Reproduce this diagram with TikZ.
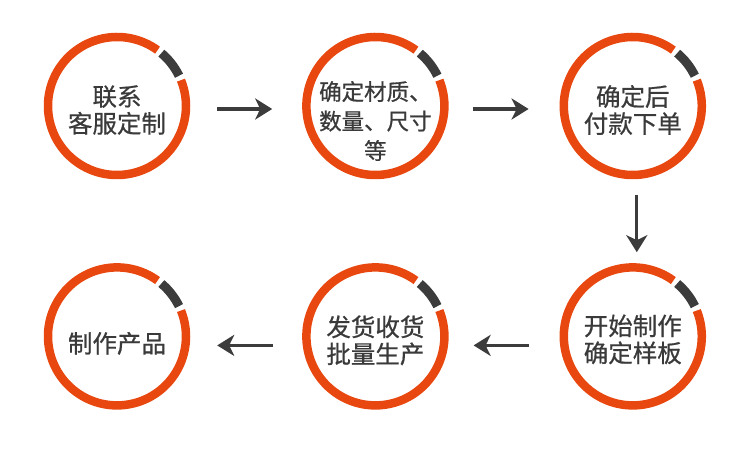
\documentclass[tikz,border=0pt]{standalone}
\usepackage{fontspec}
\setmainfont{Noto Sans CJK SC}
\newfontfamily\stepfont{Noto Sans CJK SC}[RawFeature={embolden=0.7}]
\usetikzlibrary{arrows.meta,positioning}
\definecolor{RingOrange}{HTML}{E8480F}
\definecolor{MarkGray}{HTML}{3C3C3C}
\definecolor{TextGray}{HTML}{3A3A3A}
\tikzset{
  stepring/.style={circle, minimum size=138pt, inner sep=0pt},
  ringarc/.style={draw=RingOrange, line width=8.5pt},
  ringmark/.style={draw=MarkGray, line width=9pt},
  steptext/.style={align=center, text=TextGray, inner sep=0pt,
                   font=\stepfont\fontsize{24.5}{27}\selectfont},
  flowarrow/.style={draw=MarkGray, line width=3.2pt,
                    -{Stealth[length=17pt,width=21pt,inset=5pt]}},
}

\begin{document}
\begin{tikzpicture}[x=1pt,y=1pt]
    \useasboundingbox (0,0) rectangle (750,458);
    \node[stepring] (s1) at (117,352) {};
    \node[stepring, right=120pt of s1] (s2) {};
    \node[stepring, right=119pt of s2] (s3) {};
    \node[stepring, below=92pt of s3] (s4) {};
    \node[stepring, left=119pt of s4] (s5) {};
    \node[stepring, left=120pt of s5] (s6) {};
    \foreach \i in {1,...,6} {
      \draw[ringarc] ([shift={(54:69pt)}]s\i.center) arc[start angle=54, end angle=382, radius=69pt];
      \draw[ringmark] ([shift={(26:69pt)}]s\i.center) arc[start angle=26, end angle=50, radius=69pt];
    }
    \node[steptext] (t1) at ([yshift=-4pt]s1.center) {联系\\客服定制};
    \node[steptext, font=\stepfont\fontsize{22.5}{29.5}\selectfont] (t2) at ([yshift=-15pt]s2.center) {确定材质、\\数量、尺寸\\等};
    \node[steptext] (t3) at ([yshift=-4pt]s3.center) {确定后\\付款下单};
    \node[steptext] (t4) at ([yshift=-3pt]s4.center) {开始制作\\确定样板};
    \node[steptext] (t5) at ([yshift=-4pt]s5.center) {发货收货\\批量生产};
    \node[steptext] (t6) at ([yshift=-7pt]s6.center) {制作产品};
    \draw[flowarrow, shorten <=31pt, shorten >=34pt] ([yshift=-3pt]s1.east) -- ([yshift=-3pt]s2.west);
    \draw[flowarrow, shorten <=28pt, shorten >=35pt] ([yshift=-3pt]s2.east) -- ([yshift=-3pt]s3.west);
    \draw[flowarrow, shorten <=20pt, shorten >=15pt] ([xshift=4pt]s3.south) -- ([xshift=4pt]s4.north);
    \draw[flowarrow, shorten <=35pt, shorten >=29pt] ([yshift=-9pt]s4.west) -- ([yshift=-9pt]s5.east);
    \draw[flowarrow, shorten <=33pt, shorten >=31pt] ([yshift=-9pt]s5.west) -- ([yshift=-9pt]s6.east);
\end{tikzpicture}
\end{document}
